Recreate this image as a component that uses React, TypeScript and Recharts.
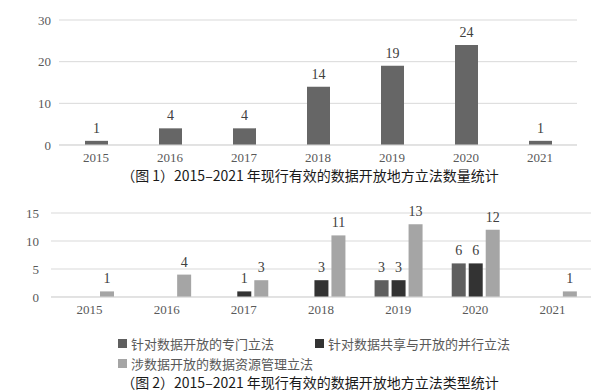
import { BarChart, Bar, XAxis, YAxis, CartesianGrid, LabelList } from 'recharts';

const years = ['2015', '2016', '2017', '2018', '2019', '2020', '2021'];
const totalCounts = [1, 4, 4, 14, 19, 24, 1];
const totalTicks = [0, 5, 10, 15, 20, 25, 30];

const specialLaw = [0, 0, 0, 0, 3, 6, 0];
const parallelLaw = [0, 0, 1, 3, 3, 6, 0];
const resourceLaw = [1, 4, 3, 11, 13, 12, 1];
const typeTicks = [0, 5, 10, 15];

const seriesNames = ['针对数据开放的专门立法', '针对数据共享与开放的并行立法', '涉数据开放的数据资源管理立法'];
const seriesColors = ['#5f5f5f', '#333333', '#a5a5a5'];

const title1 = '（图 1）2015–2021 年现行有效的数据开放地方立法数量统计';
const title2 = '（图 2）2015–2021 年现行有效的数据开放地方立法类型统计';

const chart1Data = years.map((y, i) => ({ year: y, count: totalCounts[i] }));
const chart2Data = years.map((y, i) => ({
  year: y,
  special: specialLaw[i],
  parallel: parallelLaw[i],
  resource: resourceLaw[i],
}));

const serif = '"Liberation Serif", "DejaVu Serif", serif';
const cjk = '"Noto Sans CJK SC", "Noto Sans", sans-serif';
const tickStyle = { fontSize: 13, fill: '#595959' };
const hideZero = (v: any) => (v ? v : '');

function Legend2() {
  const item = (i: number, left: number, top: number) => (
    <div
      key={i}
      style={{
        position: 'absolute',
        left,
        top,
        display: 'flex',
        alignItems: 'center',
        fontFamily: cjk,
        fontSize: 13,
        color: '#595959',
        whiteSpace: 'nowrap',
      }}
    >
      <span style={{ width: 9, height: 9, background: seriesColors[i], marginRight: 4 }} />
      {seriesNames[i]}
    </div>
  );
  return (
    <>
      {item(0, 118, 334)}
      {item(1, 315, 334)}
      {item(2, 118, 354)}
    </>
  );
}

export default function App() {
  const titleStyle = {
    position: 'absolute' as const,
    left: 0,
    width: 620,
    textAlign: 'center' as const,
    fontFamily: cjk,
    fontSize: 14,
    color: '#1a1a1a',
    whiteSpace: 'nowrap' as const,
  };

  return (
    <div style={{ position: 'fixed', left: 0, top: 0, width: 600, height: 391, background: '#fff', overflow: 'hidden' }}>
      <div style={{ position: 'absolute', left: 0, top: 0, fontFamily: serif }}>
        <BarChart width={600} height={170} data={chart1Data} margin={{ top: 20, right: 23, left: 0, bottom: 0 }}>
          <CartesianGrid vertical={false} stroke="#d9d9d9" />
          <XAxis dataKey="year" axisLine={{ stroke: '#d9d9d9' }} tickLine={false} tick={tickStyle} height={25} />
          <YAxis
            domain={[0, 30]}
            ticks={totalTicks}
            axisLine={false}
            tickLine={false}
            tick={tickStyle}
            width={59}
          />
          <Bar dataKey="count" fill="#666666" barSize={23} isAnimationActive={false}>
            <LabelList dataKey="count" position="top" offset={8} fill="#404040" fontSize={14} />
          </Bar>
        </BarChart>
      </div>
      <div style={{ ...titleStyle, top: 165 }}>{title1}</div>

      <div style={{ position: 'absolute', left: 0, top: 190, fontFamily: serif }}>
        <BarChart
          width={600}
          height={132}
          data={chart2Data}
          margin={{ top: 23, right: 9, left: 0, bottom: 0 }}
          barGap={3}
        >
          <CartesianGrid vertical={false} stroke="#d9d9d9" />
          <XAxis dataKey="year" axisLine={{ stroke: '#d9d9d9' }} tickLine={false} tick={tickStyle} height={25} />
          <YAxis
            domain={[0, 15]}
            ticks={typeTicks}
            axisLine={false}
            tickLine={false}
            tick={tickStyle}
            width={51}
            tickMargin={6}
          />
          <Bar dataKey="special" name={seriesNames[0]} fill={seriesColors[0]} barSize={14} isAnimationActive={false}>
            <LabelList dataKey="special" position="top" offset={8} fill="#404040" fontSize={14} formatter={hideZero} />
          </Bar>
          <Bar dataKey="parallel" name={seriesNames[1]} fill={seriesColors[1]} barSize={14} isAnimationActive={false}>
            <LabelList dataKey="parallel" position="top" offset={8} fill="#404040" fontSize={14} formatter={hideZero} />
          </Bar>
          <Bar dataKey="resource" name={seriesNames[2]} fill={seriesColors[2]} barSize={14} isAnimationActive={false}>
            <LabelList dataKey="resource" position="top" offset={8} fill="#404040" fontSize={14} formatter={hideZero} />
          </Bar>
        </BarChart>
      </div>
      <Legend2 />
      <div style={{ ...titleStyle, top: 372 }}>{title2}</div>
    </div>
  );
}
